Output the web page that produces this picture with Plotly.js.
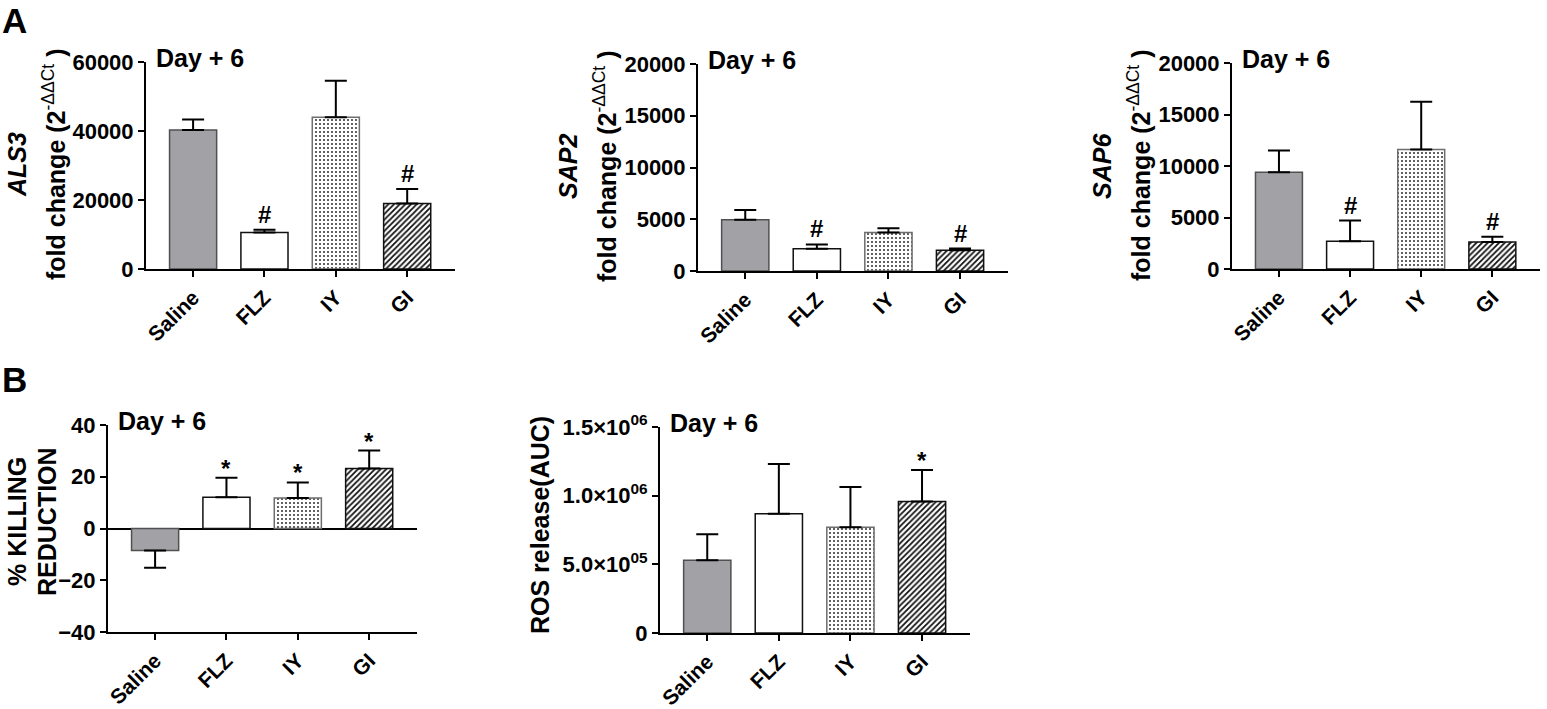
<!DOCTYPE html>
<html>
<head>
<meta charset="utf-8">
<script src="https://cdn.plot.ly/plotly-3.0.1.min.js"></script>
<style>
  html, body { margin: 0; padding: 0; background: #fff; }
  #chart { width: 1547px; height: 709px; }
</style>
</head>
<body>
<div id="chart"></div>
<script>
// groups on every panel
const categories = ['Saline', 'FLZ', 'IY', 'GI'];

// A: gene expression, day + 6
const als3Mean = [40300, 10600, 44000, 19000];
const als3Err = [3000, 800, 10600, 4200];
const als3Sig = ['', '#', '', '#'];

const sap2Mean = [4950, 2150, 3720, 2000];
const sap2Err = [950, 420, 420, 170];
const sap2Sig = ['', '#', '', '#'];

const sap6Mean = [9400, 2700, 11600, 2620];
const sap6Err = [2100, 2000, 4650, 520];
const sap6Sig = ['', '#', '', '#'];

// B: killing reduction and ROS release
const killMean = [-8.5, 12.1, 11.8, 23.2];
const killErr = [6.7, 7.5, 6.0, 6.9];
const killSig = ['', '*', '*', '*'];

const rosMean = [529000, 869000, 770000, 957000];
const rosErr = [190000, 361000, 293000, 230000];
const rosSig = ['', '', '', '*'];

const rosTickVals = [0, 500000, 1000000, 1500000];
const rosTickText = ['0', '5.0\u00d710<sup>05</sup>', '1.0\u00d710<sup>06</sup>', '1.5\u00d710<sup>06</sup>'];

const W = 1547, H = 709;
const fx = p => p / W;
const fy = p => 1 - p / H;

const FONT = 'Liberation Sans, Arial, Helvetica, sans-serif';

const panels = [
  { mean: als3Mean, err: als3Err, sig: als3Sig, x0: 146, x1: 455, top: 62, bot: 269,
    range: [0, 60000], dtick: 20000, t1: '<i>ALS3</i>', t1x: 17, t2x: 54, ty: 165 },
  { mean: sap2Mean, err: sap2Err, sig: sap2Sig, x0: 698, x1: 1008, top: 64, bot: 271,
    range: [0, 20000], dtick: 5000, t1: '<i>SAP2</i>', t1x: 568, t2x: 605, ty: 167 },
  { mean: sap6Mean, err: sap6Err, sig: sap6Sig, x0: 1232, x1: 1540, top: 63, bot: 269,
    range: [0, 20000], dtick: 5000, t1: '<i>SAP6</i>', t1x: 1102, t2x: 1139, ty: 166 },
  { mean: killMean, err: killErr, sig: killSig, x0: 108, x1: 417, top: 425, bot: 632,
    range: [-40, 40], dtick: 20, t1: '% KILLING', t1x: 17, t2: 'REDUCTION', t2x: 47, ty: 522, zero: true },
  { mean: rosMean, err: rosErr, sig: rosSig, x0: 660, x1: 970, top: 427, bot: 633,
    range: [0, 1500000], tickvals: rosTickVals, ticktext: rosTickText,
    t1: 'ROS release(AUC)', t1x: 540, ty: 525 }
];

const foldTitle = '<b>fold change (2</b><sup>-\u0394\u0394Ct</sup><b> )</b>';

// per-group bar look: Saline grey, FLZ white, IY dotted, GI hatched
const barStyles = [
  { color: '#a2a1a6', line: '#505050' },
  { color: '#ffffff', line: '#111111' },
  { color: '#ffffff', line: '#6e6e6e', pattern: { shape: '.', fgcolor: '#3a3a3a', bgcolor: '#ffffff', size: 4, solidity: 0.22 } },
  { color: '#ffffff', line: '#111111', pattern: { shape: '/', fgcolor: '#111111', bgcolor: '#ffffff', size: 4, solidity: 0.45 } }
];

const data = [];
const layout = {
  width: W, height: H,
  margin: { l: 0, r: 0, t: 0, b: 0 },
  paper_bgcolor: '#fff',
  plot_bgcolor: 'rgba(0,0,0,0)',
  showlegend: false,
  barmode: 'overlay',
  font: { family: FONT, color: '#000' },
  annotations: [
    { text: '<b>A</b>', xref: 'paper', yref: 'paper', x: 0, y: fy(-1), xanchor: 'left', yanchor: 'top',
      showarrow: false, font: { size: 35, family: FONT } },
    { text: '<b>B</b>', xref: 'paper', yref: 'paper', x: 0, y: fy(358), xanchor: 'left', yanchor: 'top',
      showarrow: false, font: { size: 35, family: FONT } }
  ]
};

const axisCommon = {
  showline: true, linewidth: 2, linecolor: '#000',
  ticks: 'outside', ticklen: 6, tickwidth: 2, tickcolor: '#000',
  showgrid: false, zeroline: false, fixedrange: true,
  tickfont: { family: FONT, size: 22, weight: 'bold', color: '#000' }
};

panels.forEach((p, i) => {
  const n = i + 1;
  const xa = 'x' + n, ya = 'y' + n;

  categories.forEach((c, k) => {
    const m = p.mean[k], e = p.err[k];
    const st = barStyles[k];
    const marker = { color: st.color, line: { color: st.line, width: 1.5 } };
    if (st.pattern) marker.pattern = st.pattern;
    data.push({
      type: 'bar', x: [c], y: [m], xaxis: xa, yaxis: ya, width: 0.66,
      hoverinfo: 'x+y', marker: marker,
      error_y: { type: 'data', symmetric: false,
        array: [m < 0 ? 0 : e], arrayminus: [m < 0 ? e : 0],
        color: '#000', thickness: 2, width: 11 }
    });
  });

  layout['xaxis' + n] = Object.assign({}, axisCommon, {
    domain: [fx(p.x0), fx(p.x1)], anchor: ya, type: 'category',
    categoryorder: 'array', categoryarray: categories,
    range: [-0.66, 3.67], tickangle: -45,
    tickfont: { family: FONT, size: 21, weight: 'bold', color: '#000' }
  });
  const yax = Object.assign({}, axisCommon, {
    domain: [fy(p.bot), fy(p.top)], anchor: xa, range: p.range, tickformat: 'd'
  });
  if (p.tickvals) { yax.tickmode = 'array'; yax.tickvals = p.tickvals; yax.ticktext = p.ticktext; }
  else { yax.tickmode = 'linear'; yax.tick0 = p.range[0]; yax.dtick = p.dtick; }
  if (p.zero) { yax.zeroline = true; yax.zerolinewidth = 2; yax.zerolinecolor = '#000'; }
  layout['yaxis' + n] = yax;

  // "Day + 6"
  layout.annotations.push({
    text: '<b>Day + 6</b>', xref: 'paper', yref: 'paper',
    x: fx(p.x0 + 8), y: fy(p.top - 4), xanchor: 'left', yanchor: 'middle',
    showarrow: false, font: { size: 25, family: FONT }
  });

  // y titles
  layout.annotations.push({
    text: '<b>' + p.t1 + '</b>', xref: 'paper', yref: 'paper',
    x: fx(p.t1x), y: fy(p.ty), xanchor: 'center', yanchor: 'middle', textangle: -90,
    showarrow: false, font: { size: 25, family: FONT }
  });
  if (i < 3 || p.t2) {
    layout.annotations.push({
      text: p.t2 ? '<b>' + p.t2 + '</b>' : foldTitle, xref: 'paper', yref: 'paper',
      x: fx(p.t2x), y: fy(p.ty), xanchor: 'center', yanchor: 'middle', textangle: -90,
      showarrow: false, font: { size: 25, family: FONT, weight: 'normal' }
    });
  }

  // significance marks
  p.sig.forEach((s, k) => {
    if (!s) return;
    layout.annotations.push({
      text: '<b>' + s + '</b>', xref: xa, yref: ya,
      x: categories[k], y: p.mean[k] + p.err[k], xanchor: 'center', yanchor: 'bottom',
      yshift: s === '*' ? -6 : 0,
      showarrow: false, font: { size: 24, family: FONT }
    });
  });
});

Plotly.newPlot('chart', data, layout, { displayModeBar: false, staticPlot: true });
</script>
</body>
</html>
